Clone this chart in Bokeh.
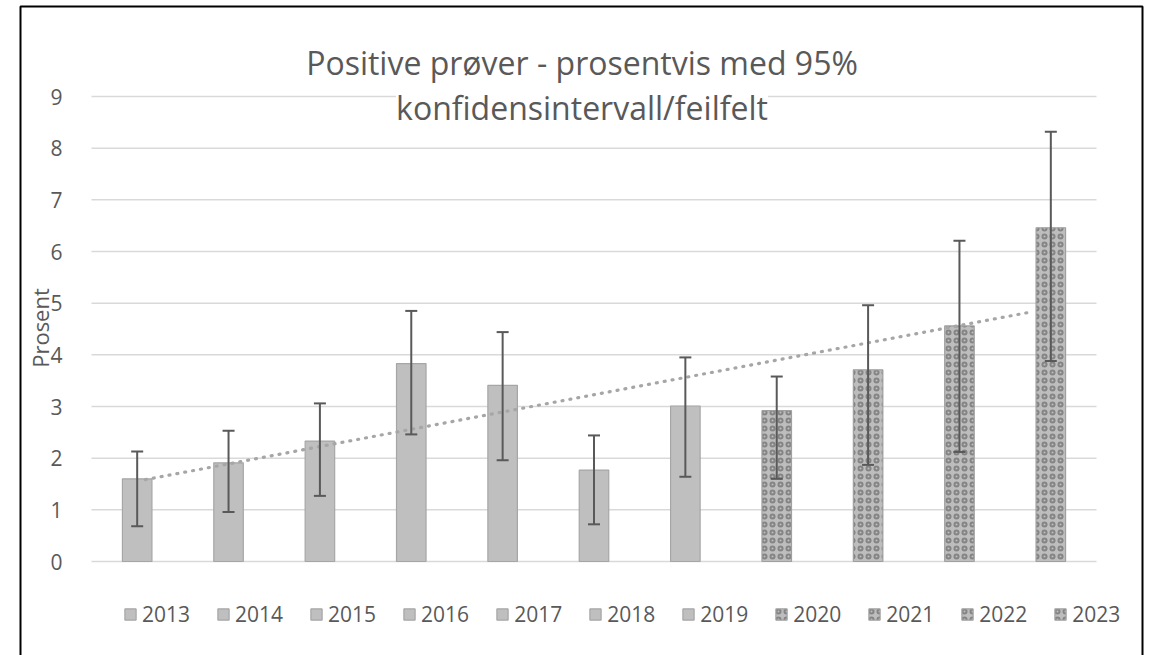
import numpy as np
from bokeh.plotting import figure
from bokeh.models import (ColumnDataSource, Range1d, FixedTicker, Whisker, TeeHead,
                          Legend, LegendItem, Label, LinearAxis)
from bokeh.embed import file_html
from bokeh.resources import INLINE

# ---- data ----
years = ["2013", "2014", "2015", "2016", "2017", "2018", "2019", "2020", "2021", "2022", "2023"]
prosent = [1.60, 1.91, 2.33, 3.83, 3.41, 1.77, 3.01, 2.92, 3.71, 4.56, 6.46]
ci_lower = [0.68, 0.96, 1.27, 2.46, 1.96, 0.72, 1.64, 1.60, 1.87, 2.12, 3.88]
ci_upper = [2.13, 2.53, 3.06, 4.85, 4.44, 2.44, 3.95, 3.58, 4.96, 6.21, 8.32]
textured_from = "2020"
y_ticks = [0, 1, 2, 3, 4, 5, 6, 7, 8, 9]
title_lines = ["Positive prøver - prosentvis med 95%", "konfidensintervall/feilfelt"]
y_label = "Prosent"

FONT = "Open Sans"
TXT = "#595959"

# ---- layout (page pixels) ----
W, H = 1150, 655            # canvas size; canvas origin observed at page (0, 0)
OX, OY = 0, 0
PLOT_L, PLOT_R = 91, 1096   # plotting area, page x
Y0_PX, Y9_PX = 561, 96      # page y of value 0 and 9
n = len(years)
ppc = (PLOT_R - PLOT_L) / n           # pixels per category
ppu = (Y0_PX - Y9_PX) / 9.0           # pixels per percent


def xd(px):   # page x -> data x (category index)
    return -0.5 + (px - PLOT_L) / ppc


def yd(py):   # page y -> data y
    return (Y0_PX - py) / ppu


idx = list(range(n))
split = years.index(textured_from)

src_plain = ColumnDataSource(dict(x=idx[:split], top=prosent[:split]))
src_tex = ColumnDataSource(dict(x=idx[split:], top=prosent[split:]))
src_err = ColumnDataSource(dict(x=idx, lower=ci_lower, upper=ci_upper))

p = figure(width=W, height=H,
           x_range=Range1d(xd(OX), xd(OX + W)), y_range=Range1d(yd(OY + H), yd(OY)),
           x_axis_type=None, y_axis_type=None, output_backend="svg",
           toolbar_location=None, min_border=0)
p.outline_line_color = None
p.background_fill_color = "white"
p.border_fill_color = "white"
p.grid.visible = False

# chart border (chart-area frame)
bx0, bx1, by0 = xd(20), xd(1142), yd(6)
p.line([bx0, bx0, bx1, bx1], [yd(OY + H + 5), by0, by0, yd(OY + H + 5)],
       line_color="black", line_width=2)

# gridlines
p.segment(x0=-0.5, x1=n - 0.5, y0=y_ticks, y1=y_ticks, line_color="#d9d9d9", line_width=1.5)

# y axis inside the frame
yax = LinearAxis(fixed_location=-0.5, ticker=FixedTicker(ticks=y_ticks))
yax.axis_line_color = None
yax.major_tick_line_color = None
yax.minor_tick_line_color = None
yax.major_label_standoff = 23
yax.major_label_text_font = FONT
yax.major_label_text_font_size = "21px"
yax.major_label_text_color = TXT
yax.axis_label = y_label
yax.axis_label_text_font = FONT
yax.axis_label_text_font_size = "22px"
yax.axis_label_text_font_style = "normal"
yax.axis_label_text_color = TXT
yax.axis_label_standoff = -8
p.add_layout(yax, "left")

bw = 0.323
r_plain = p.vbar(x="x", top="top", bottom=0, width=bw, source=src_plain,
                 fill_color="#bfbfbf", line_color="#a6a6a6", line_width=1.2)
r_tex = p.vbar(x="x", top="top", bottom=0, width=bw, source=src_tex,
               fill_color="#bdbdbd", line_color="#a0a0a0", line_width=1.2,
               hatch_pattern="ring", hatch_color="#555555", hatch_alpha=0.55,
               hatch_scale=8, hatch_weight=2.0)

# trend line (least squares fit of the values)
k, m = np.polyfit(idx, prosent, 1)
tx = [idx[0] + 0.09, idx[-1] - 0.19]
ty = [k * v + m for v in tx]
p.line(tx, ty, line_color="#a6a6a6", line_width=3.2, line_dash="1 7", line_cap="round")

# error bars (drawn above the bars)
wh = Whisker(source=src_err, base="x", lower="lower", upper="upper", dimension="height",
             line_color="#595959", line_width=2, level="overlay",
             upper_head=TeeHead(size=12, line_color="#595959", line_width=2),
             lower_head=TeeHead(size=12, line_color="#595959", line_width=2))
p.add_layout(wh)

# title
cx = xd(581.5)
p.add_layout(Label(x=cx, y=yd(62), text=title_lines[0],
                   text_align="center", text_baseline="alphabetic",
                   text_font=FONT, text_font_size="32px", text_color=TXT))
p.add_layout(Label(x=cx, y=yd(107), text=title_lines[1],
                   text_align="center", text_baseline="alphabetic",
                   text_font=FONT, text_font_size="32px", text_color=TXT,
                   background_fill_color="white"))

# legend
items = []
for i, yr in enumerate(years):
    if i < split:
        items.append(LegendItem(label=yr, renderers=[r_plain], index=i))
    else:
        items.append(LegendItem(label=yr, renderers=[r_tex], index=i - split))
leg = Legend(items=items, orientation="horizontal", location=(123 - OX, OY + H - 628),
             label_text_font=FONT, label_text_font_size="21px", label_text_color=TXT,
             glyph_width=14, glyph_height=14, label_standoff=5, spacing=26,
             padding=0, margin=0, border_line_color=None, background_fill_alpha=0)
p.add_layout(leg)

open("out.html", "w").write(file_html(p, INLINE))
